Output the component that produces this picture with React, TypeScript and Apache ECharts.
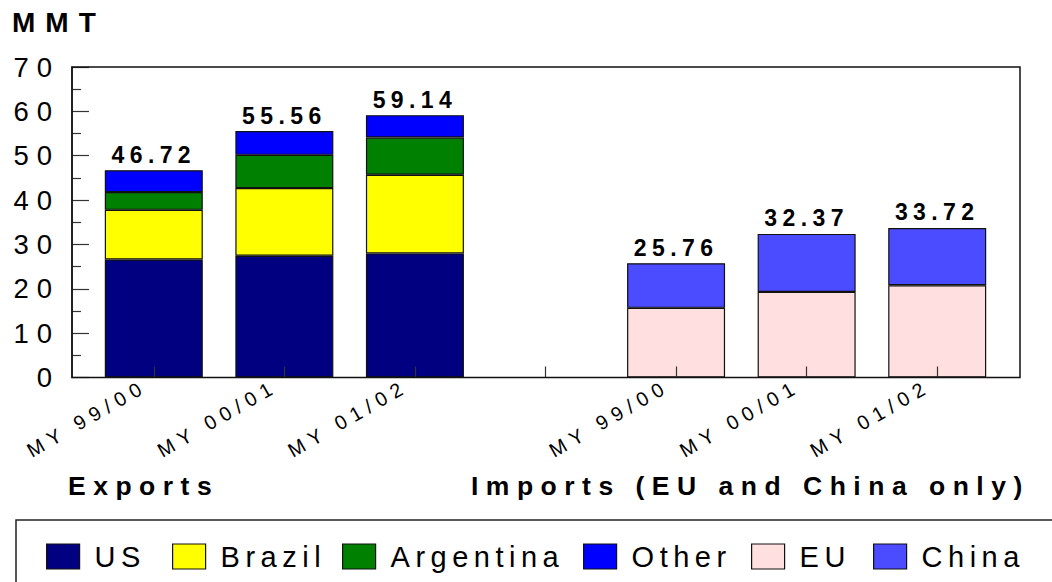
import React, { useEffect, useRef } from "react";
import * as echarts from "echarts";

const categories = ["MY 99/00", "MY 00/01", "MY 01/02", "", "MY 99/00", "MY 00/01", "MY 01/02"];
const usValues = [26.6, 27.46, 27.98, "-", "-", "-", "-"];
const brazilValues = [11.2, 15.24, 17.72, "-", "-", "-", "-"];
const argentinaValues = [4.0, 7.5, 8.4, "-", "-", "-", "-"];
const otherValues = [4.92, 5.36, 5.04, "-", "-", "-", "-"];
const euValues = ["-", "-", "-", "-", 15.7, 19.3, 20.8];
const chinaValues = ["-", "-", "-", "-", 10.06, 13.07, 12.92];
const exportTotals = [46.72, 55.56, 59.14];
const importTotals = [25.76, 32.37, 33.72];
const yTicks = [0, 10, 20, 30, 40, 50, 60, 70];

const FONT = "'Liberation Sans', Arial, Helvetica, sans-serif";

const css = `
.mmtchart text[style*="28px"] { letter-spacing: 10px; }
.mmtchart text[style*="26.5px"] { letter-spacing: 7.5px; }
.mmtchart text[style*="27.5px"] { letter-spacing: 8px; }
.mmtchart text[style*="23px"] { letter-spacing: 5.4px; }
.mmtchart text[style*="29px"] { letter-spacing: 5.5px; }
.mmtchart text[style*="20px"] { letter-spacing: 6.2px; }
`;

export default function App() {
  const ref = useRef<HTMLDivElement>(null);
  useEffect(() => {
    if (!ref.current) return;
    const chart = echarts.init(ref.current, null, { renderer: "svg" });
    const border = { borderColor: "#111", borderWidth: 1.2 };
    const legendNames = ["US", "Brazil", "Argentina", "Other", "EU", "China"];
    const legendLefts = [46, 172, 342, 583, 751, 873];
    const mkSeries = (name: string, data: any[], color: string, labelTotals?: number[], offset = 0) => ({
      name,
      type: "bar",
      stack: "all",
      data,
      barWidth: 98,
      itemStyle: { color, ...border },
      label: labelTotals
        ? {
            show: true,
            position: "top",
            distance: 4,
            fontFamily: FONT,
            fontSize: 23,
            fontWeight: "bold",
            color: "#000",
            formatter: (p: any) => labelTotals[p.dataIndex - offset].toFixed(2),
          }
        : { show: false },
    });
    chart.setOption({
      animation: false,
      backgroundColor: "#fff",
      textStyle: { fontFamily: FONT },
      title: [
        { text: "MMT", left: 12, top: 8, padding: 0, textStyle: { fontFamily: FONT, fontSize: 28, fontWeight: "bold", color: "#000" } },
        { text: "Exports", left: 68, top: 472, padding: 0, textStyle: { fontFamily: FONT, fontSize: 26.5, fontWeight: "bold", color: "#000" } },
        { text: "Imports (EU and China only)", left: 471, top: 472, padding: 0, textStyle: { fontFamily: FONT, fontSize: 26.5, fontWeight: "bold", color: "#000" } },
      ],
      legend: legendNames.map((n, i) => ({
        data: [{ name: n, icon: "rect" }],
        icon: "rect",
        left: legendLefts[i],
        top: 542,
        padding: 0,
        itemWidth: 33,
        itemHeight: 25,
        itemStyle: { borderRadius: 0, borderColor: "#111", borderWidth: 1.2 },
        selectedMode: false,
        textStyle: { fontFamily: FONT, fontSize: 29, color: "#000", padding: [0, 0, 0, 10] },
      })),
      grid: { left: 88.5, width: 914, top: 67, bottom: 204.5, containLabel: false },
      xAxis: {
        type: "category",
        data: categories,
        z: 10,
        axisLine: { show: false },
        axisTick: { show: true, inside: true, length: 11, alignWithLabel: true, interval: 0, lineStyle: { color: "#333", width: 1.2 } },
        axisLabel: { interval: 0, rotate: 30, margin: 2, fontFamily: FONT, fontSize: 20, color: "#000", padding: [0, 10, 0, 0] },
      },
      yAxis: {
        type: "value",
        min: yTicks[0],
        max: yTicks[yTicks.length - 1],
        interval: 10,
        offset: 16.5,
        z: 10,
        axisLine: { show: true, lineStyle: { color: "#222", width: 1.5 } },
        axisTick: { show: true, inside: true, length: 17, lineStyle: { color: "#333", width: 1.2 } },
        minorTick: { show: true, splitNumber: 2, length: 9, lineStyle: { color: "#333", width: 1.2 } },
        splitLine: { show: false },
        axisLabel: { margin: 12, fontFamily: FONT, fontSize: 27.5, color: "#000" },
      },
      series: [
        mkSeries("US", usValues, "#000080"),
        mkSeries("Brazil", brazilValues, "#ffff00"),
        mkSeries("Argentina", argentinaValues, "#008000"),
        mkSeries("Other", otherValues, "#0000ff", exportTotals, 0),
        mkSeries("EU", euValues, "#ffdfdf"),
        mkSeries("China", chinaValues, "#4b4bff", importTotals, 4),
      ],
      graphic: [
        { type: "rect", z: 100, silent: true, shape: { x: 72, y: 67, width: 948, height: 310.5 }, style: { fill: "none", stroke: "#111", lineWidth: 1.5 } },
        { type: "rect", z: 100, silent: true, shape: { x: 16, y: 520, width: 1100, height: 120 }, style: { fill: "none", stroke: "#222", lineWidth: 1.5 } },
      ],
    });
    return () => chart.dispose();
  }, []);
  return (
    <>
      <style>{css}</style>
      <div ref={ref} className="mmtchart" style={{ position: "fixed", left: 0, top: 0, width: 1052, height: 582 }} />
    </>
  );
}
